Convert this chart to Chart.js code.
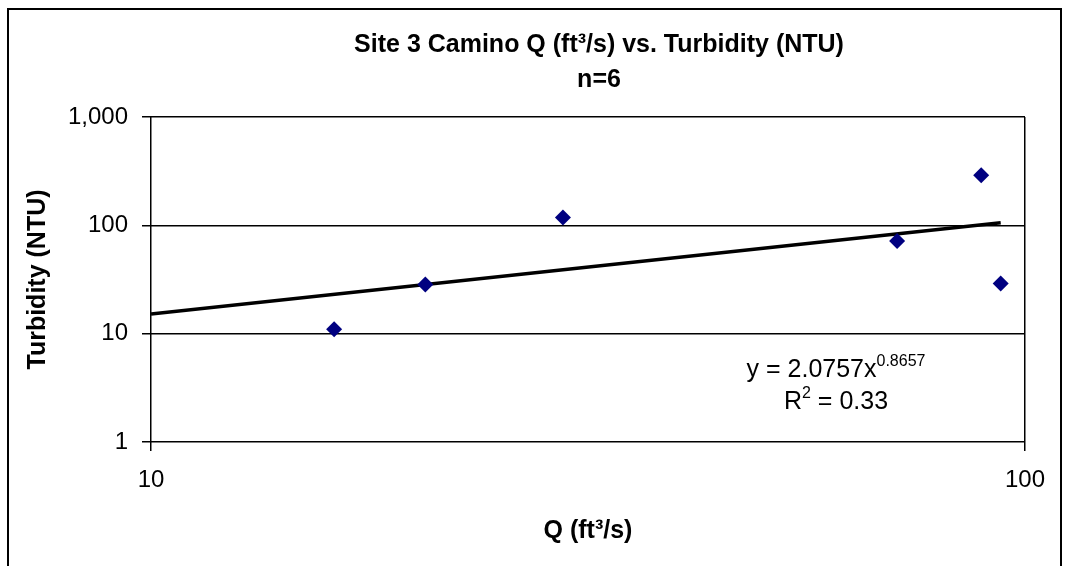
<!DOCTYPE html>
<html>
<head>
<meta charset="utf-8">
<script src="https://cdn.jsdelivr.net/npm/chart.js@4"></script>
<style>
  html, body { margin: 0; padding: 0; background: #fff; }
  #wrap { width: 1069px; height: 566px; position: relative; }
</style>
</head>
<body>
<div id="wrap"><canvas id="Scatter" width="1069" height="566"></canvas></div>
<script>
// data
const xTicks = [10, 100];
const yTicks = [1, 10, 100, 1000];
const flowQ = [16.2, 20.6, 29.6, 71.4, 89.1, 93.8];
const turbidity = [11, 28.5, 118, 71.5, 290, 29];
// power trendline y = 2.0757x^0.8657, end points as drawn
const trendQ = [10, 93.8];
const trendNTU = [15.2, 105.8];

const titleLines = ['Site 3 Camino Q (ft\u00b3/s) vs. Turbidity (NTU)', 'n=6'];
const eqMain = 'y = 2.0757x', eqExp = '0.8657';
const r2Main = 'R', r2Exp = '2', r2Rest = ' = 0.33';

const FONT = 'Arial, "Liberation Sans", sans-serif';

const pts = flowQ.map((x, i) => ({x: x, y: turbidity[i]}));
const trend = trendQ.map((x, i) => ({x: x, y: trendNTU[i]}));

// outer frame, title and the trendline label
const decorations = {
  id: 'decorations',
  afterDraw(chart) {
    const ctx = chart.ctx;
    ctx.save();
    ctx.strokeStyle = '#000';
    ctx.lineWidth = 2;
    ctx.strokeRect(8, 9, 1053, 570);

    ctx.fillStyle = '#000';
    ctx.textAlign = 'center';
    ctx.textBaseline = 'middle';
    ctx.font = 'bold 25px ' + FONT;
    ctx.fillText(titleLines[0], 599, 45);
    ctx.fillText(titleLines[1], 599, 80);

    // equation, both lines centred on the same x
    const big = '25px ' + FONT, small = '16px ' + FONT;
    const cx = 836;
    ctx.textAlign = 'left';
    ctx.textBaseline = 'alphabetic';
    ctx.font = big;
    let w1 = ctx.measureText(eqMain).width;
    ctx.font = small;
    let w2 = ctx.measureText(eqExp).width;
    let x = cx - (w1 + w2) / 2, y = 377;
    ctx.font = big;
    ctx.fillText(eqMain, x, y);
    ctx.font = small;
    ctx.fillText(eqExp, x + w1, y - 11);

    ctx.font = big;
    let a1 = ctx.measureText(r2Main).width, a3 = ctx.measureText(r2Rest).width;
    ctx.font = small;
    let a2 = ctx.measureText(r2Exp).width;
    x = cx - (a1 + a2 + a3) / 2; y = 409;
    ctx.font = big;
    ctx.fillText(r2Main, x, y);
    ctx.font = small;
    ctx.fillText(r2Exp, x + a1, y - 11);
    ctx.font = big;
    ctx.fillText(r2Rest, x + a1 + a2, y);
    ctx.restore();
  }
};

const chart = new Chart(document.getElementById('Scatter'), {
  type: 'scatter',
  data: {
    datasets: [{
      label: 'Turbidity',
      data: pts,
      pointStyle: 'rectRot',
      pointRadius: 8,
      backgroundColor: '#000080',
      borderColor: '#000080',
      borderWidth: 0,
      order: 1
    },
    {
      label: 'Power trend',
      type: 'line',
      data: trend,
      borderColor: '#000',
      borderWidth: 3.5,
      pointRadius: 0,
      fill: false,
      tension: 0,
      order: 2
    }]
  },
  options: {
    responsive: false,
    animation: false,
    layout: { padding: { left: 0, right: 44, top: 117, bottom: 0 } },
    plugins: {
      legend: { display: false },
      title: { display: false },
      tooltip: { enabled: false }
    },
    scales: {
      x: {
        type: 'logarithmic',
        min: 10,
        max: 100,
        afterBuildTicks: s => { s.ticks = xTicks.map(v => ({value: v})); },
        afterFit: s => { s.height = 124; },
        border: { display: false },
        grid: { color: '#000', lineWidth: 1.5, tickLength: 9, drawOnChartArea: true },
        ticks: {
          color: '#000',
          padding: 15,
          font: { family: FONT, size: 24 },
          callback: v => v.toString()
        },
        title: {
          display: true,
          text: 'Q (ft\u00b3/s)',
          color: '#000',
          font: { family: FONT, size: 25, weight: 'bold' },
          padding: { top: 0, bottom: 20 }
        }
      },
      y: {
        type: 'logarithmic',
        min: 1,
        max: 1000,
        afterBuildTicks: s => { s.ticks = yTicks.map(v => ({value: v})); },
        afterFit: s => { s.width = 151; },
        border: { display: false },
        grid: { color: '#000', lineWidth: 1.5, tickLength: 9, drawOnChartArea: true },
        ticks: {
          color: '#000',
          padding: 14,
          font: { family: FONT, size: 24 },
          callback: v => v.toLocaleString('en-US')
        },
        title: {
          display: true,
          text: 'Turbidity (NTU)',
          color: '#000',
          font: { family: FONT, size: 25, weight: 'bold' },
          padding: { top: 23, bottom: 0 }
        }
      }
    }
  },
  plugins: [decorations]
});
</script>
</body>
</html>
